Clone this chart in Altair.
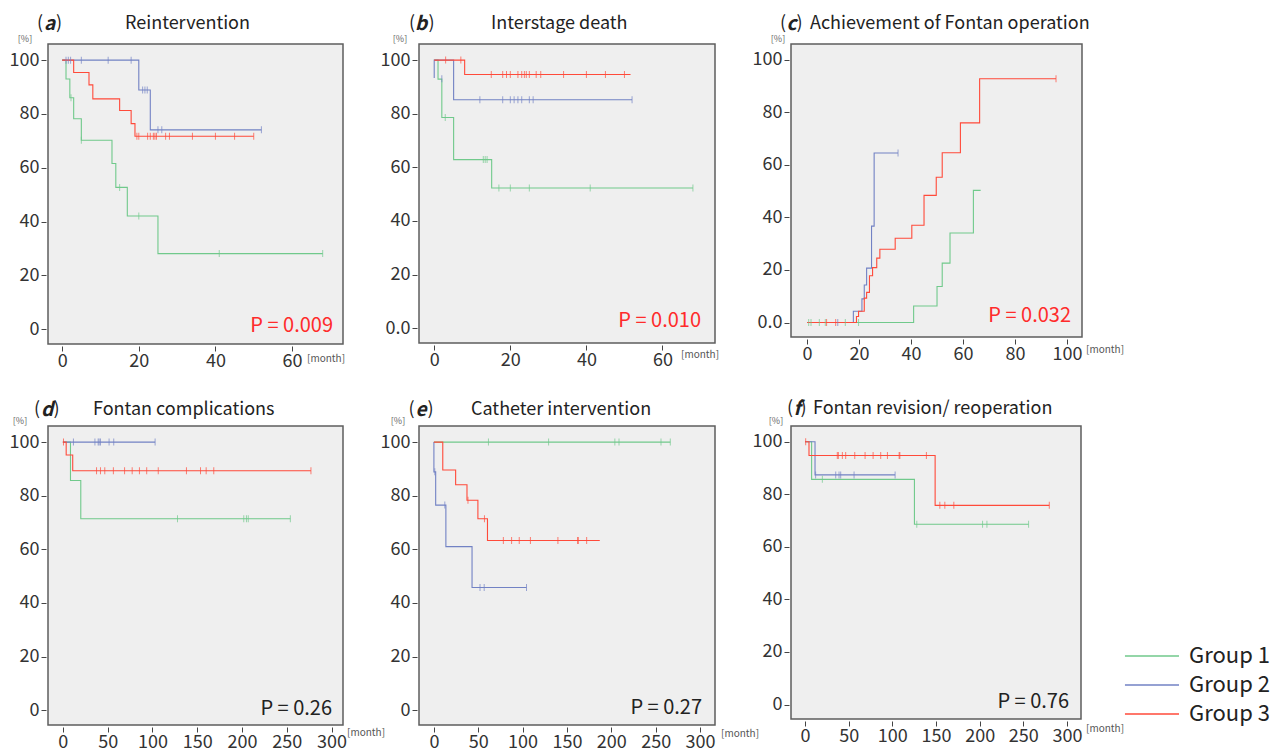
import altair as alt
import pandas as pd

FONT = "Noto Sans CJK JP"
groups = ["Group 1", "Group 2", "Group 3"]
colors = ["#70c98b", "#7282c4", "#ff4a3a"]

# ---------------- (a) Reintervention ----------------
a_g1_t = [0, 1, 2, 3, 5, 13, 14, 17, 25, 68]
a_g1_s = [100, 93.0, 86.0, 78.2, 70.2, 61.6, 52.7, 42.1, 28.1, 28.1]
a_g1_ct = [2.3, 5, 15, 20, 41, 68]
a_g1_cs = [86.0, 70.2, 52.7, 42.1, 28.1, 28.1]
a_g2_t = [0, 20, 23, 52]
a_g2_s = [100, 88.9, 74.1, 74.1]
a_g2_ct = [1, 1.6, 2.2, 5, 12, 18, 21, 21.6, 22.2, 25, 26, 52]
a_g2_cs = [100, 100, 100, 100, 100, 100, 88.9, 88.9, 88.9, 74.1, 74.1, 74.1]
a_g3_t = [0, 3, 7, 8, 15, 18, 19, 50]
a_g3_s = [100, 95.4, 90.8, 85.6, 81.3, 76.4, 71.7, 71.7]
a_g3_ct = [19.5, 20, 22.3, 23, 23.8, 24.2, 24.6, 27, 28, 34, 40, 45, 50]
a_g3_cs = [71.7] * 13

# ---------------- (b) Interstage death ----------------
b_g1_t = [0, 1, 2, 5.1, 15.1, 68]
b_g1_s = [100, 92.9, 78.6, 62.9, 52.3, 52.3]
b_g1_ct = [2.9, 12.9, 13.4, 13.9, 17, 20, 25, 41, 68]
b_g1_cs = [78.6, 62.9, 62.9, 62.9, 52.3, 52.3, 52.3, 52.3, 52.3]
b_g2_t = [0, 0, 5.1, 52]
b_g2_s = [93.3, 100, 85.2, 85.2]
b_g2_ct = [2, 12, 18, 20, 21, 22, 23, 25, 26, 52]
b_g2_cs = [93.0] + [85.2] * 9
b_g3_t = [0, 8, 51.6]
b_g3_s = [100, 94.6, 94.6]
b_g3_ct = [3, 7, 15, 18, 19, 20, 22, 23, 23.7, 24.2, 25, 26.8, 28, 34, 40, 45, 50]
b_g3_cs = [100, 100] + [94.6] * 15

# ---------------- (c) Achievement of Fontan operation ----------------
c_g1_t = [0, 41, 50, 52, 55, 64, 66.8]
c_g1_s = [0, 6.3, 13.7, 22.6, 34.1, 50.3, 50.3]
c_g1_ct = [0.6, 1.5, 4.7, 7, 14.7, 19.8]
c_g1_cs = [0, 0, 0, 0, 0, 0]
c_g2_t = [0, 17.8, 21.1, 22, 22.9, 24.8, 25.8, 35]
c_g2_s = [0, 4.3, 9.0, 14.3, 20.7, 36.7, 64.5, 64.5]
c_g2_ct = [11.8, 35]
c_g2_cs = [0, 64.5]
c_g3_t = [0, 19, 19.8, 22, 22.9, 24, 25.2, 26.8, 28, 33.9, 40.3, 45, 49.7, 52, 59, 66.4, 95.8]
c_g3_s = [0, 2.3, 4.3, 9.3, 11.5, 17.8, 20.9, 24.5, 27.9, 32.1, 37.0, 48.4, 55.3, 64.6, 76.0, 92.8, 92.8]
c_g3_ct = [7.5, 11, 95.8]
c_g3_cs = [0, 0, 92.8]

# ---------------- (d) Fontan complications ----------------
d_g1_t = [0, 8.5, 20, 254]
d_g1_s = [100, 85.7, 71.4, 71.4]
d_g1_ct = [128, 202, 205, 207, 254]
d_g1_cs = [71.4] * 5
d_g2_t = [0, 103]
d_g2_s = [100, 100]
d_g2_ct = [11.8, 35.8, 39.4, 40.5, 42, 51.6, 56.8, 103]
d_g2_cs = [100] * 8
d_g3_t = [0, 3.7, 11, 277]
d_g3_s = [100, 95.2, 89.3, 89.3]
d_g3_ct = [0.7, 37.6, 42, 46.8, 56.4, 68.9, 77.4, 85.5, 93.6, 106.5, 138, 153.7, 160, 168.5, 277]
d_g3_cs = [100] + [89.3] * 14

# ---------------- (e) Catheter intervention ----------------
e_g1_t = [0, 266.5]
e_g1_s = [100, 100]
e_g1_ct = [61.5, 129.3, 204, 208.7, 256, 266.5]
e_g1_cs = [100] * 6
e_g2_t = [0, 0, 2, 13.5, 43, 104.4]
e_g2_s = [100, 88.9, 76.5, 61.0, 45.8, 45.8]
e_g2_ct = [1, 12.3, 52, 56.7, 104.4]
e_g2_cs = [88.9, 76.5, 45.8, 45.8, 45.8]
e_g3_t = [0, 10, 24.5, 37.3, 49.6, 60.4, 187]
e_g3_s = [100, 89.6, 84.1, 78.3, 71.4, 63.3, 63.3]
e_g3_ct = [38.4, 57, 78.3, 87.6, 96.2, 108.8, 139.8, 162, 162.8, 172.2]
e_g3_cs = [78.3, 71.4] + [63.3] * 8

# ---------------- (f) Fontan revision/ reoperation ----------------
f_g1_t = [0, 7.6, 125.3, 256]
f_g1_s = [100, 85.7, 68.6, 68.6]
f_g1_ct = [19.9, 128, 203.3, 208.3, 256]
f_g1_cs = [85.7, 68.6, 68.6, 68.6, 68.6]
f_g2_t = [0, 11.5, 103.2]
f_g2_s = [100, 87.4, 87.4]
f_g2_ct = [12.2, 35.2, 39, 40.9, 56.2, 103.2]
f_g2_cs = [87.4] * 6
f_g3_t = [0, 4.6, 149, 279.7]
f_g3_s = [100, 94.8, 75.8, 75.8]
f_g3_ct = [0.8, 37, 38.2, 42.8, 46.6, 57, 68.8, 78, 86.7, 94.4, 107.8, 108.6, 139, 154.4, 160.1, 170.4, 279.7]
f_g3_cs = [100] + [94.8] * 12 + [75.8] * 4

y_ticks = [0, 20, 40, 60, 80, 100]
x_ticks_short = [0, 20, 40, 60]
x_ticks_c = [0, 20, 40, 60, 80, 100]
x_ticks_long = [0, 50, 100, 150, 200, 250, 300]

p_values = ["P = 0.009", "P = 0.010", "P = 0.032", "P = 0.26", "P = 0.27", "P = 0.76"]
titles = ["Reintervention", "Interstage death", "Achievement of Fontan operation",
          "Fontan  complications", "Catheter intervention", "Fontan revision/ reoperation"]
letters = ["a", "b", "c", "d", "e", "f"]

dummy = pd.DataFrame({"k": [0]})


def curves_df(ts, ss):
    rows = []
    for g, t, s in zip(groups, ts, ss):
        for i, (tv, sv) in enumerate(zip(t, s)):
            rows.append({"t": tv, "s": sv, "group": g, "i": i})
    return pd.DataFrame(rows)


def text(txt, x, y, size, color="#222222", weight="normal", style="normal", align="left", baseline="middle"):
    return alt.Chart(dummy).mark_text(
        text=txt, fontSize=size, fontWeight=weight, fontStyle=style, color=color,
        align=align, baseline=baseline, font=FONT
    ).encode(x=alt.value(x), y=alt.value(y))


def panel(idx, ts, ss, cts, css, xdom, xvals, w, h, paren, title_x, title_y,
          pct, month, pofs, pcolor, zero_label):
    cdf = curves_df(ts, ss)
    kdf = curves_df(cts, css)
    lab = "datum.value == 0 ? '0.0' : datum.label" if zero_label else "datum.label"
    x = alt.X("t:Q", scale=alt.Scale(domain=xdom, nice=False, zero=False),
              axis=alt.Axis(values=xvals, title=None))
    y = alt.Y("s:Q", scale=alt.Scale(domain=[-5.5, 106], nice=False, zero=False),
              axis=alt.Axis(values=y_ticks, title=None, labelExpr=lab))
    col = alt.Color("group:N", scale=alt.Scale(domain=groups, range=colors),
                    legend=alt.Legend(title=None))
    lines = alt.Chart(cdf).mark_line(interpolate="step-after", strokeWidth=1.1).encode(
        x=x, y=y, color=col, order=alt.Order("i:Q"))
    ticks = alt.Chart(kdf).mark_tick(orient="vertical", size=7, thickness=1).encode(
        x=x, y=y, color=alt.Color("group:N", scale=alt.Scale(domain=groups, range=colors), legend=None))
    layers = [lines, ticks]
    layers.append(text("(", paren[0], title_y, 18))
    layers.append(text(letters[idx], paren[1], title_y, 19, weight="bold", style="italic", align="center"))
    layers.append(text(")", paren[2], title_y, 18, align="right"))
    layers.append(text(titles[idx], title_x, title_y, 18))
    layers.append(text("[%]", pct[0], pct[1], 9, color="#666666", align="center"))
    layers.append(text("[month]", w + month[0], h + month[1], 10, color="#555555"))
    layers.append(text(p_values[idx], w - pofs[0], h - pofs[1], 20, color=pcolor,
                       align="right", baseline="alphabetic"))
    return alt.layer(*layers).properties(width=w, height=h)


RED = "#ff2b2b"
BLK = "#222222"

pa = panel(0, [a_g1_t, a_g2_t, a_g3_t], [a_g1_s, a_g2_s, a_g3_s],
           [a_g1_ct, a_g2_ct, a_g3_ct], [a_g1_cs, a_g2_cs, a_g3_cs],
           [-3.7, 73.3], x_ticks_short, 295, 300, (-11, 1.5, 14), 77, -20,
           (-23, -5), (-36, 15), (10, 12), RED, False)
pb = panel(1, [b_g1_t, b_g2_t, b_g3_t], [b_g1_s, b_g2_s, b_g3_s],
           [b_g1_ct, b_g2_ct, b_g3_ct], [b_g1_cs, b_g2_cs, b_g3_cs],
           [-4, 73.8], x_ticks_short, 296, 299, (-10, 2, 15.5), 72, -20,
           (-19, -5), (-34, 12), (14, 16), RED, True)
pc = panel(2, [c_g1_t, c_g2_t, c_g3_t], [c_g1_s, c_g2_s, c_g3_s],
           [c_g1_ct, c_g2_ct, c_g3_ct], [c_g1_cs, c_g2_cs, c_g3_cs],
           [-6.2, 105.8], x_ticks_c, 291, 293, (-11, 0.5, 11.5), 19, -20,
           (-13, -5), (4, 13), (11, 15), RED, True)
pd_ = panel(3, [d_g1_t, d_g2_t, d_g3_t], [d_g1_s, d_g2_s, d_g3_s],
            [d_g1_ct, d_g2_ct, d_g3_ct], [d_g1_cs, d_g2_cs, d_g3_cs],
            [-16.6, 312.8], x_ticks_long, 295, 299, (-14, -1, 11.5), 45, -16,
            (-28, -5), (4, 8), (11, 10), BLK, False)
pe = panel(4, [e_g1_t, e_g2_t, e_g3_t], [e_g1_s, e_g2_s, e_g3_s],
           [e_g1_ct, e_g2_ct, e_g3_ct], [e_g1_cs, e_g2_cs, e_g3_cs],
           [-16.8, 316.9], x_ticks_long, 296, 299, (-10.5, 2, 14.5), 52, -16,
           (-21, -5), (6, 9), (13, 11), BLK, False)
pf = panel(5, [f_g1_t, f_g2_t, f_g3_t], [f_g1_s, f_g2_s, f_g3_s],
           [f_g1_ct, f_g2_ct, f_g3_ct], [f_g1_cs, f_g2_cs, f_g3_cs],
           [-16, 316], x_ticks_long, 290, 293, (-4, 6, 15.5), 22, -17,
           (-15, -5), (5, 10), (12, 11), BLK, False)

chart = alt.concat(pa, pb, pc, pd_, pe, pf, columns=3, spacing={"row": 82, "column": 76}).properties(
    bounds="flush", align="each",
    padding={"left": 0, "top": 6, "right": 0, "bottom": 0},
).configure(font=FONT).configure_view(
    fill="#efefef", stroke="#5e5e5e", strokeWidth=1.5
).configure_axis(
    domain=False, grid=False, ticks=True, tickSize=5, tickColor="#444444", tickWidth=1,
    labelColor="#333333", labelFontSize=18, labelFont=FONT, labelPadding=2, offset=2,
).configure_axisX(labelPadding=1).configure_legend(
    orient="none", legendX=1093, legendY=601, symbolType="M-5,0H5", symbolSize=117,
    symbolStrokeWidth=1.5, labelFontSize=22, labelFont=FONT, labelOffset=26,
    rowPadding=7, labelLimit=300, labelColor="#222222",
)

chart.save("out.html", embed_options={"renderer": "svg", "actions": False})
